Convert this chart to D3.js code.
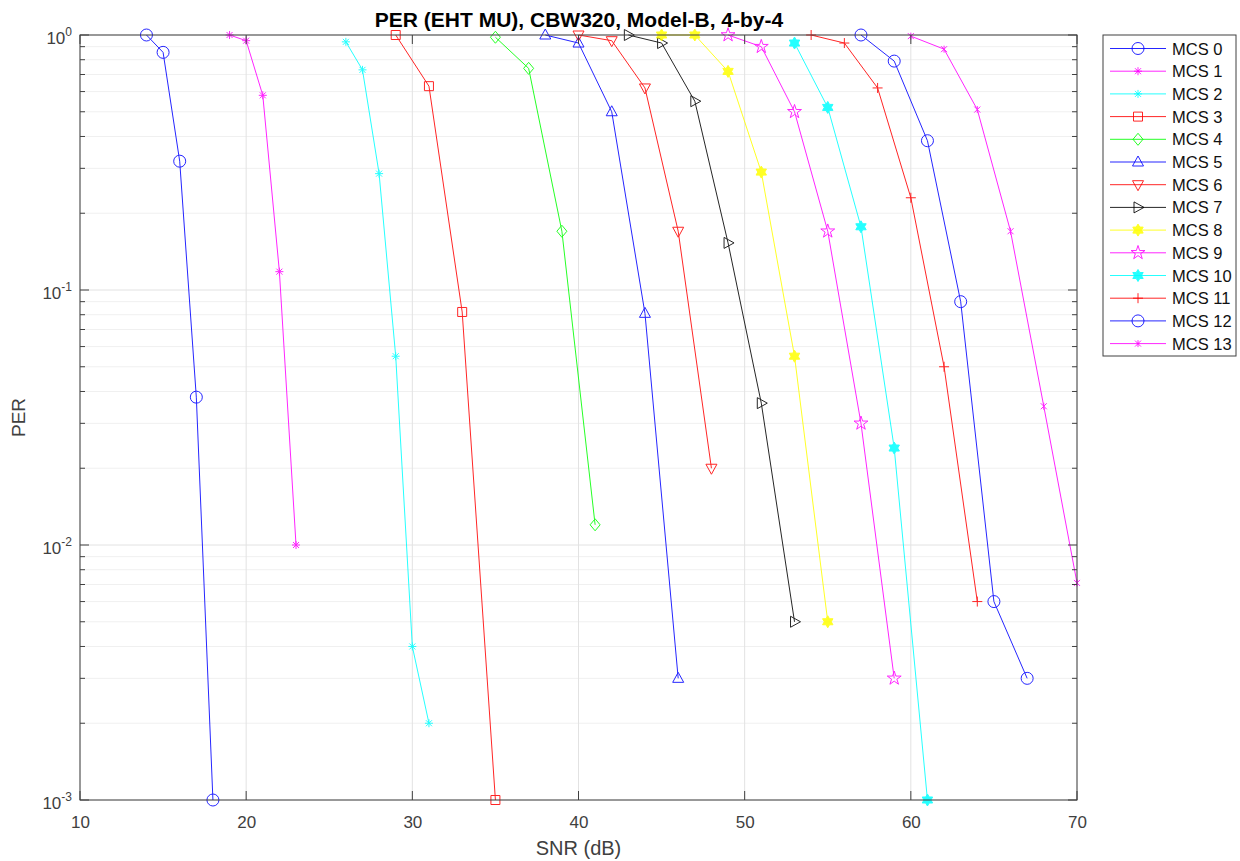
<!DOCTYPE html>
<html>
<head>
<meta charset="utf-8">
<script src="https://cdn.jsdelivr.net/npm/d3@7"></script>
<style>
  body { margin: 0; background: #fff; }
  text { font-family: "Liberation Sans", Arial, sans-serif; }
</style>
</head>
<body>
<svg id="chart" width="1240" height="861"></svg>
<script>
// --- data ---
var seriesNames = ["MCS 0","MCS 1","MCS 2","MCS 3","MCS 4","MCS 5","MCS 6",
                   "MCS 7","MCS 8","MCS 9","MCS 10","MCS 11","MCS 12","MCS 13"];
var seriesColors = ["#0000ff","#ff00ff","#00ffff","#ff0000","#00ff00","#0000ff","#ff0000",
                    "#000000","#ffff00","#ff00ff","#00ffff","#ff0000","#0000ff","#ff00ff"];
var seriesMarkers = ["circle","star","star","square","diamond","up","down",
                     "right","hexagram","pentagram","hexagram","plus","circle","cross"];

var snr0 = [14,15,16,17,18];            var per0 = [1,0.855,0.32,0.038,0.001];
var snr1 = [19,20,21,22,23];            var per1 = [1,0.95,0.58,0.118,0.01];
var snr2 = [26,27,28,29,30,31];         var per2 = [0.94,0.73,0.286,0.055,0.004,0.002];
var snr3 = [29,31,33,35];               var per3 = [1,0.63,0.082,0.001];
var snr4 = [35,37,39,41];               var per4 = [0.98,0.74,0.17,0.012];
var snr5 = [38,40,42,44,46];            var per5 = [1,0.93,0.5,0.081,0.003];
var snr6 = [40,42,44,46,48];            var per6 = [1,0.95,0.62,0.17,0.02];
var snr7 = [43,45,47,49,51,53];         var per7 = [1,0.93,0.55,0.153,0.036,0.005];
var snr8 = [45,47,49,51,53,55];         var per8 = [1,1,0.72,0.29,0.055,0.005];
var snr9 = [49,51,53,55,57,59];         var per9 = [1,0.9,0.5,0.17,0.03,0.003];
var snr10 = [53,55,57,59,61];           var per10 = [0.93,0.52,0.177,0.024,0.001];
var snr11 = [54,56,58,60,62,64];        var per11 = [1,0.93,0.62,0.23,0.05,0.006];
var snr12 = [57,59,61,63,65,67];        var per12 = [1,0.79,0.385,0.09,0.006,0.003];
var snr13 = [60,62,64,66,68,70];        var per13 = [0.99,0.88,0.51,0.17,0.035,0.0071];

var allSnr = [snr0,snr1,snr2,snr3,snr4,snr5,snr6,snr7,snr8,snr9,snr10,snr11,snr12,snr13];
var allPer = [per0,per1,per2,per3,per4,per5,per6,per7,per8,per9,per10,per11,per12,per13];

var xTicks = [10,20,30,40,50,60,70];
var yDecades = [1e-3,1e-2,1e-1,1];
var yExponents = ["-3","-2","-1","0"];

var titleText = "PER (EHT MU), CBW320, Model-B, 4-by-4";
var xLabelText = "SNR (dB)";
var yLabelText = "PER";

// --- layout ---
var svg = d3.select("#chart");
var plot = { left: 80, right: 1077, top: 35, bottom: 800 };

var x = d3.scaleLinear().domain([10,70]).range([plot.left, plot.right]);
var y = d3.scaleLog().domain([1e-3,1]).range([plot.bottom, plot.top]);

var axisColor = "#404040";

// minor values for log grid
var minorVals = [];
for (var d = 0; d < 3; d++) {
    for (var m = 2; m <= 9; m++) minorVals.push(m * yDecades[d]);
}

var grid = svg.append("g").attr("class","grid");
grid.selectAll(".ygrid-minor").data(minorVals).enter().append("line")
    .attr("x1", plot.left).attr("x2", plot.right)
    .attr("y1", function(v){ return y(v); }).attr("y2", function(v){ return y(v); })
    .attr("stroke", "#f0f0f0").attr("stroke-width", 1);
grid.selectAll(".ygrid").data(yDecades).enter().append("line")
    .attr("x1", plot.left).attr("x2", plot.right)
    .attr("y1", function(v){ return y(v); }).attr("y2", function(v){ return y(v); })
    .attr("stroke", "#e2e2e2").attr("stroke-width", 1);
grid.selectAll(".xgrid").data(xTicks).enter().append("line")
    .attr("y1", plot.top).attr("y2", plot.bottom)
    .attr("x1", function(v){ return x(v); }).attr("x2", function(v){ return x(v); })
    .attr("stroke", "#e2e2e2").attr("stroke-width", 1);

// --- markers ---
function markerPath(kind) {
    var r = 6;
    switch (kind) {
        case "circle": return d3.symbol().type(d3.symbolCircle).size(Math.PI*r*r)();
        case "square": return "M-4.5,-4.5H4.5V4.5H-4.5Z";
        case "diamond": return "M0,-6L5,0L0,6L-5,0Z";
        case "up": return "M0,-6L5.5,4L-5.5,4Z";
        case "down": return "M0,6L5.5,-4L-5.5,-4Z";
        case "right": return "M6,0L-4,-5.5L-4,5.5Z";
        case "plus": return "M-5,0H5M0,-5V5";
        case "cross": return "M-3,-3L3,3M-3,3L3,-3M0,-3.5V3.5";
        case "star": return "M-3,-3L3,3M-3,3L3,-3M0,-4V4M-4,0H4";
        case "pentagram": return d3.symbol().type(d3.symbolStar).size(60)();
        case "hexagram":
            var pts = [];
            for (var i = 0; i < 12; i++) {
                var a = Math.PI/6*i - Math.PI/2;
                var rr = (i % 2 === 0) ? 6 : 3.5;
                pts.push([rr*Math.cos(a), rr*Math.sin(a)]);
            }
            return "M" + pts.join("L") + "Z";
    }
    return "";
}
function isFilled(kind) {
    return kind === "hexagram";
}

var line = d3.line().x(function(p){ return x(p[0]); }).y(function(p){ return y(p[1]); });

var seriesG = svg.append("g").attr("class","series");
seriesNames.forEach(function(name, i) {
    var pts = allSnr[i].map(function(s, j){ return [s, allPer[i][j]]; });
    var g = seriesG.append("g").attr("opacity", 0.85);
    g.append("path").datum(pts)
        .attr("d", line)
        .attr("fill", "none")
        .attr("stroke", seriesColors[i])
        .attr("stroke-width", 1);
    g.selectAll("path.mk").data(pts).enter().append("path")
        .attr("class","mk")
        .attr("d", markerPath(seriesMarkers[i]))
        .attr("transform", function(p){ return "translate(" + x(p[0]) + "," + y(p[1]) + ")"; })
        .attr("fill", isFilled(seriesMarkers[i]) ? seriesColors[i] : "none")
        .attr("stroke", seriesColors[i])
        .attr("stroke-width", 1);
});

// --- axes box and ticks ---
var axes = svg.append("g").attr("class","axes");
axes.append("rect")
    .attr("x", plot.left).attr("y", plot.top)
    .attr("width", plot.right - plot.left).attr("height", plot.bottom - plot.top)
    .attr("fill", "none").attr("stroke", axisColor).attr("stroke-width", 1);

// x ticks bottom/top inward
xTicks.forEach(function(v) {
    axes.append("line").attr("x1", x(v)).attr("x2", x(v))
        .attr("y1", plot.bottom).attr("y2", plot.bottom - 9).attr("stroke", axisColor);
    axes.append("line").attr("x1", x(v)).attr("x2", x(v))
        .attr("y1", plot.top).attr("y2", plot.top + 9).attr("stroke", axisColor);
});
// y ticks left/right inward
yDecades.forEach(function(v) {
    axes.append("line").attr("x1", plot.left).attr("x2", plot.left + 9)
        .attr("y1", y(v)).attr("y2", y(v)).attr("stroke", axisColor);
    axes.append("line").attr("x1", plot.right).attr("x2", plot.right - 9)
        .attr("y1", y(v)).attr("y2", y(v)).attr("stroke", axisColor);
});
minorVals.forEach(function(v) {
    axes.append("line").attr("x1", plot.left).attr("x2", plot.left + 5)
        .attr("y1", y(v)).attr("y2", y(v)).attr("stroke", axisColor);
    axes.append("line").attr("x1", plot.right).attr("x2", plot.right - 5)
        .attr("y1", y(v)).attr("y2", y(v)).attr("stroke", axisColor);
});

// tick labels
var xAxis = d3.axisBottom(x).tickValues(xTicks).tickSize(0).tickPadding(16);
var xg = axes.append("g").attr("transform", "translate(0," + plot.bottom + ")").call(xAxis);
xg.select(".domain").remove();
xg.selectAll("text").attr("font-size", 17).attr("fill", axisColor)
    .style("font-family", "Liberation Sans, Arial, sans-serif");

yDecades.forEach(function(v, i) {
    var t = axes.append("text")
        .attr("x", plot.left - 8).attr("y", y(v) + 9)
        .attr("text-anchor", "end")
        .attr("font-size", 17).attr("fill", axisColor);
    t.append("tspan").text("10");
    t.append("tspan").attr("dy", -8).attr("font-size", 12).text(yExponents[i]);
});

// labels
svg.append("text").attr("x", (plot.left + plot.right) / 2).attr("y", 855)
    .attr("text-anchor", "middle").attr("font-size", 20).attr("fill", axisColor)
    .text(xLabelText);
svg.append("text")
    .attr("transform", "translate(25," + ((plot.top + plot.bottom) / 2) + ") rotate(-90)")
    .attr("text-anchor", "middle").attr("font-size", 19).attr("fill", axisColor)
    .text(yLabelText);
svg.append("text").attr("x", 579).attr("y", 27)
    .attr("text-anchor", "middle").attr("font-size", 21).attr("font-weight", "bold")
    .attr("fill", "#000").text(titleText);

// --- legend ---
var legend = svg.append("g").attr("class","legend");
legend.append("rect")
    .attr("x", 1103).attr("y", 35).attr("width", 133).attr("height", 321)
    .attr("fill", "#fff").attr("stroke", axisColor).attr("stroke-width", 1);
seriesNames.forEach(function(name, i) {
    var cy = 48.5 + i * 22.7;
    var g = legend.append("g");
    g.append("line").attr("x1", 1110).attr("x2", 1166).attr("y1", cy).attr("y2", cy)
        .attr("stroke", seriesColors[i]).attr("stroke-width", 1).attr("opacity", 0.85);
    g.append("path").attr("d", markerPath(seriesMarkers[i]))
        .attr("transform", "translate(1138," + cy + ")")
        .attr("fill", isFilled(seriesMarkers[i]) ? seriesColors[i] : "none")
        .attr("stroke", seriesColors[i]).attr("stroke-width", 1).attr("opacity", 0.85);
    g.append("text").attr("x", 1172).attr("y", cy + 6)
        .attr("font-size", 16.5).attr("fill", "#111").text(name);
});
</script>
</body>
</html>
